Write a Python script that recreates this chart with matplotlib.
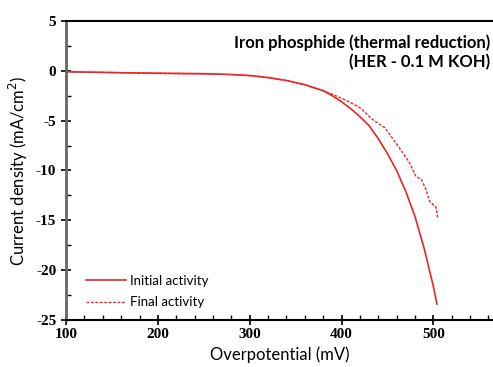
import matplotlib.pyplot as plt
from matplotlib.ticker import MultipleLocator

plt.rcParams['axes.unicode_minus'] = False

# overpotential (mV) vs current density (mA/cm2)
eta_init = [100, 150, 200, 250, 280, 300, 320, 340, 360, 380, 390, 400, 410, 420, 430, 440,
            450, 460, 470, 480, 490, 500, 504]
j_init = [-0.1, -0.18, -0.25, -0.3, -0.38, -0.48, -0.68, -0.98, -1.4, -2.0, -2.5, -3.1, -3.8,
          -4.6, -5.5, -6.8, -8.3, -10.0, -12.1, -14.6, -17.8, -21.6, -23.4]

eta_final = [100, 150, 200, 250, 280, 300, 320, 340, 360, 380, 390, 400, 410, 420, 434, 447,
             459, 474, 481, 487, 492, 496, 503, 505]
j_final = [-0.1, -0.18, -0.25, -0.3, -0.38, -0.48, -0.68, -0.98, -1.4, -2.0, -2.35, -2.75, -3.2,
           -3.7, -4.9, -5.7, -7.2, -9.2, -10.6, -10.9, -11.9, -13.1, -13.7, -14.9]

red = '#e8262a'

fig = plt.figure(figsize=(4.93, 3.67), dpi=100)
ax = fig.add_axes([0.134, 0.128, 0.866, 0.815])

ax.plot(eta_init, j_init, color=red, lw=1.2, label='Initial activity')
ax.plot(eta_final, j_final, color=red, lw=1.0, ls=(0, (2, 1.2)), label='Final activity')

ax.set_xlim(100, 565)
ax.set_ylim(-25, 5)
ax.xaxis.set_major_locator(MultipleLocator(100))
ax.xaxis.set_minor_locator(MultipleLocator(20))
ax.yaxis.set_major_locator(MultipleLocator(5))
ax.yaxis.set_minor_locator(MultipleLocator(2.5))

ax.spines['right'].set_visible(False)
ax.spines['left'].set_color('#666666')
ax.spines['left'].set_linewidth(2)
ax.spines['bottom'].set_linewidth(1.5)
ax.spines['top'].set_linewidth(1.5)
ax.tick_params(which='major', direction='inout', length=7, width=1.2)
ax.tick_params(which='minor', direction='in', length=3.5, width=1)
ax.tick_params(axis='x', which='major', pad=2)

for lab in ax.get_xticklabels() + ax.get_yticklabels():
    lab.set_fontfamily('Liberation Serif')
    lab.set_fontweight('bold')
    lab.set_fontsize(11)

ax.set_xlabel('Overpotential (mV)', family='Lato', fontsize=12, labelpad=4)
ax.set_ylabel('Current density (mA/cm$^2$)', family='Lato', fontsize=12, labelpad=4)

ax.text(0.993, 0.955, 'Iron phosphide (thermal reduction)\n(HER - 0.1 M KOH)',
        transform=ax.transAxes, ha='right', va='top', family='Lato',
        fontweight='bold', fontsize=12, linespacing=1.2)

leg = ax.legend(loc='lower left', bbox_to_anchor=(0.02, 0.0), frameon=False,
                prop={'family': 'Lato', 'size': 9.5}, handlelength=3.0,
                handletextpad=0.3, labelspacing=0.7)

fig.savefig('out.png', dpi=100)
